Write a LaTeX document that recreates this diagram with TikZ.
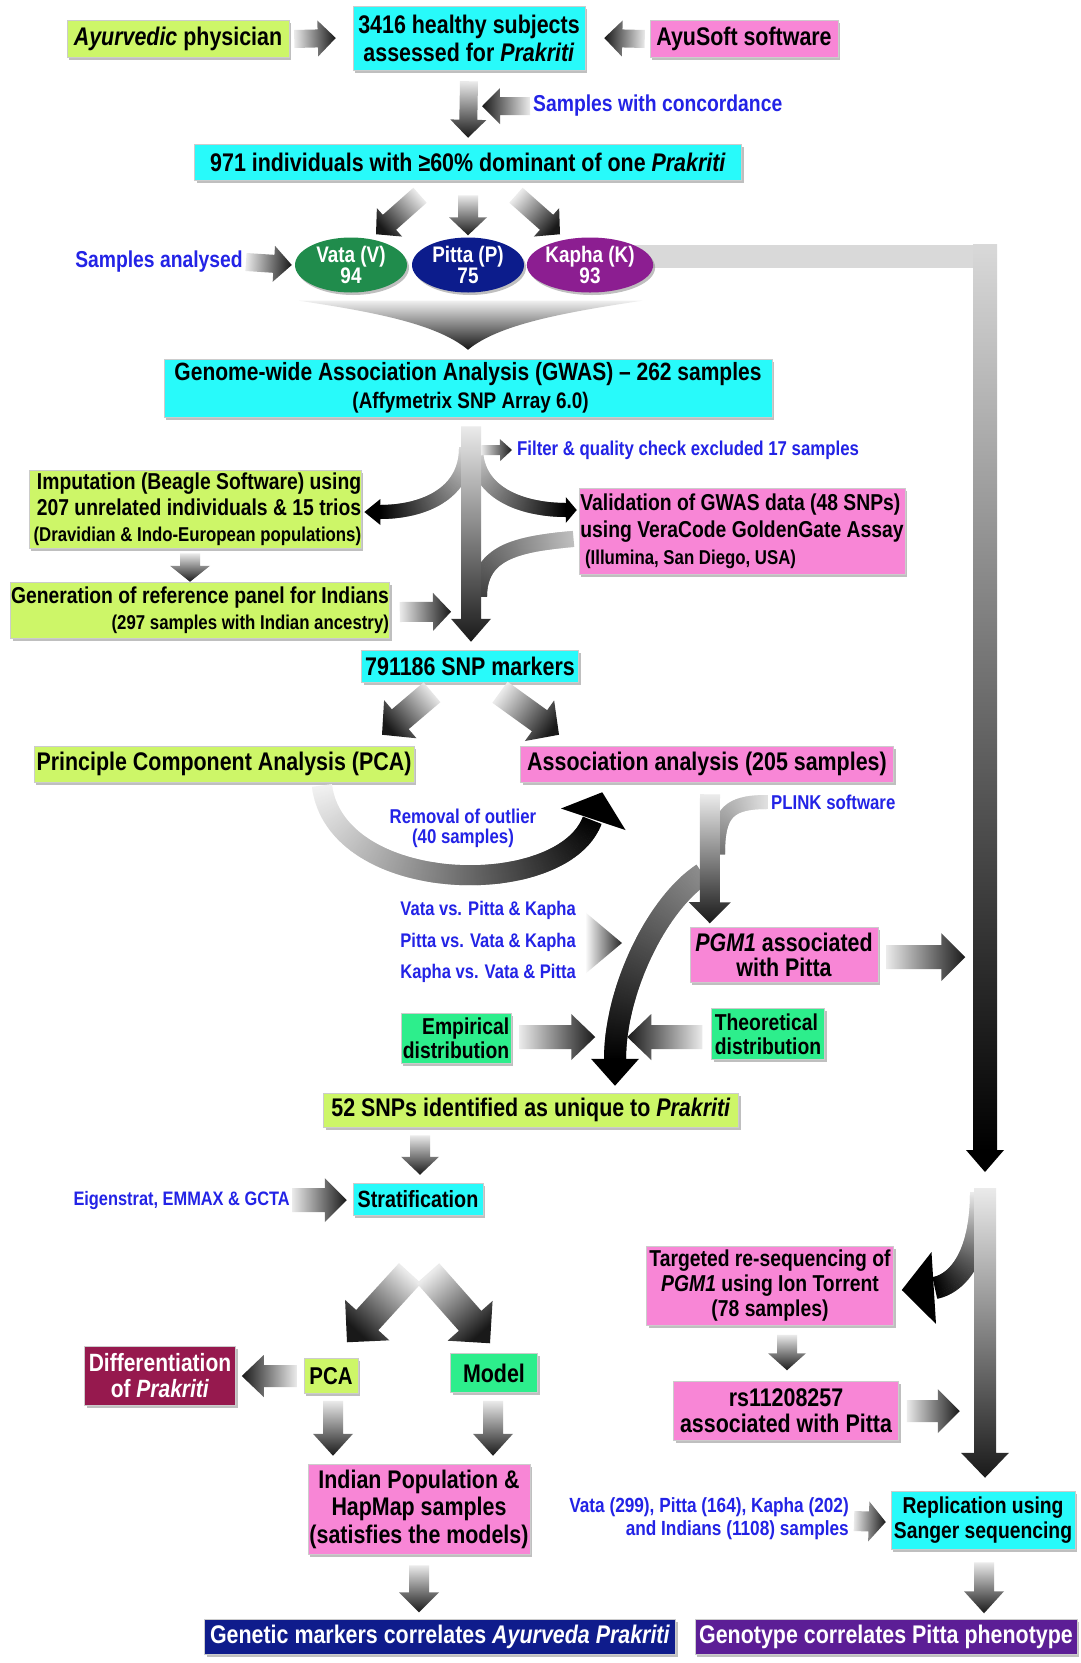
\documentclass[tikz,border=0pt]{standalone}
\usepackage{fontspec}
\setmainfont{Liberation Sans}[FakeStretch=0.84]
\usetikzlibrary{calc,shapes.geometric,shadows,decorations.markings,backgrounds}

\definecolor{limey}{RGB}{205,246,104}
\definecolor{aqua}{RGB}{40,250,250}
\definecolor{rosy}{RGB}{248,134,214}
\definecolor{mint}{RGB}{45,238,140}
\definecolor{wine}{RGB}{150,25,78}
\definecolor{navybox}{RGB}{15,28,140}
\definecolor{violetbox}{RGB}{92,30,150}
\definecolor{vatagreen}{RGB}{32,140,76}
\definecolor{pittablue}{RGB}{12,28,140}
\definecolor{kaphapurple}{RGB}{140,30,145}
\definecolor{noteblue}{RGB}{35,35,230}

\newcommand\bfs[2]{\bfseries\fontsize{#1}{#2}\selectfont}
\newcommand\bigtext{\bfs{25.5}{28}}
\newcommand\smalltext{\bfs{20}{23}}

% block arrow sizes
\def\ashaftw{9pt}
\def\aheadw{18pt}
\def\aheadl{18pt}

\tikzset{
  ashaft/.code={\def\ashaftw{#1}},
  ahead/.code={\def\aheadw{#1}},
  ahlen/.code={\def\aheadl{#1}},
  box/.style={draw=black!20, line width=0.5pt, inner sep=0pt, align=center, font=\bigtext,
    drop shadow={shadow xshift=2pt, shadow yshift=-2.5pt, fill=black!55, opacity=0.45}},
  greenbox/.style={box, fill=limey},
  cyanbox/.style={box, fill=aqua},
  pinkbox/.style={box, fill=rosy},
  mintbox/.style={box, fill=mint},
  darkbox/.style={box, fill=#1, text=white},
  note/.style={text=noteblue, font=\smalltext, inner sep=0pt},
  dosha/.style={ellipse, fill=#1, inner sep=0pt, minimum width=112pt, minimum height=55pt,
    text=white, align=center, font=\bfs{22.5}{19},
    drop shadow={shadow xshift=2pt, shadow yshift=-2.5pt, fill=black!55, opacity=0.45}},
  gradpath/.style n args={3}{decoration={markings,
      mark=between positions 0 and 1 step 1pt with {%
        \pgfmathsetmacro\gsh{#2+(#3-#2)*(\pgfkeysvalueof{/pgf/decoration/mark info/distance from start}/\pgfdecoratedpathlength)}%
        \fill[black!\gsh] (-0.8pt,-#1) rectangle (0.8pt,#1);}},
    postaction={decorate}},
}

% shaded block arrow from #2 to #3
\newcommand\barrow[3][]{%
  \begin{scope}[#1]
    \coordinate (ba) at (#2);
    \coordinate (bb) at (#3);
    \coordinate (bc) at ($(bb)!\aheadl!(ba)$);
    \path let \p1=(ba), \p2=(bb) in
      \pgfextra{\pgfmathsetmacro\barang{atan2(\y2-\y1,\x2-\x1)-90}\global\let\barang\barang};
    \shade[top color=black!90, bottom color=black!8, shading angle=\barang]
      ($(ba)!\ashaftw!90:(bb)$) -- ($(bc)!\ashaftw!-90:(ba)$) -- ($(bc)!\aheadw!-90:(ba)$)
      -- (bb) -- ($(bc)!\aheadw!90:(ba)$) -- ($(bc)!\ashaftw!90:(ba)$)
      -- ($(ba)!\ashaftw!-90:(bb)$) -- cycle;
  \end{scope}}

% black head: base #1, tip #2, half width #3
\newcommand\tipfill[3]{%
  \coordinate (ta) at (#1);
  \coordinate (tb) at (#2);
  \fill[black] ($(ta)!#3!90:(tb)$) -- (tb) -- ($(ta)!#3!-90:(tb)$) -- cycle;}

\begin{document}
\begin{tikzpicture}[x=1pt, y=-1pt]
  \begin{scope}[on background layer]
    \fill[white] (0,0) rectangle (1080,1663);
  \end{scope}
  \useasboundingbox (0,0) rectangle (1080,1663);

  % boxes
  \node[greenbox, minimum width=222pt, minimum height=37pt] (phys) at (178,39) {\textit{Ayurvedic} physician};
  \node[cyanbox, minimum width=232pt, minimum height=64pt] (subj) at (469,38) {3416 healthy subjects\\assessed for \textit{Prakriti}};
  \node[pinkbox, minimum width=188pt, minimum height=37pt] (ayu) at (744,39) {AyuSoft software};
  \node[note, font=\bfs{23}{26}, anchor=west] (conc) at (533,106) {Samples with concordance};
  \node[cyanbox, minimum width=547pt, minimum height=36pt] (f971) at (468,162) {971 individuals with ≥60\% dominant of one \textit{Prakriti}};
  \node[dosha=vatagreen] (vata) at (351,265) {Vata (V)\\94};
  \node[dosha=pittablue] (pitta) at (468,265) {Pitta (P)\\75};
  \node[dosha=kaphapurple] (kapha) at (590,265) {Kapha (K)\\93};
  \node[note, font=\bfs{23}{26}, anchor=east] (samp) at (243,262) {Samples analysed};
  \node[cyanbox, minimum width=608pt, minimum height=58pt, font=\bfs{25}{28}] (gwas) at (468,388) {Genome-wide Association Analysis (GWAS) – 262 samples\\{\bfs{22.5}{24} (Affymetrix SNP Array 6.0)}};
  \node[note, anchor=west] (filt) at (517,450) {Filter \& quality check excluded 17 samples};
  \node[greenbox, minimum width=332pt, minimum height=78pt, align=right, font=\bfs{23}{26}] (imp) at (195,509) {Imputation (Beagle Software) using\\207 unrelated individuals \& 15 trios\\{\bfs{20}{23} (Dravidian \& Indo-European populations)}};
  \node[pinkbox, minimum width=326pt, minimum height=86pt, align=left, font=\bfs{23}{27}] (valid) at (742,531) {Validation of GWAS data (48 SNPs)\\using VeraCode GoldenGate Assay\\{\bfs{20}{23} (Illumina, San Diego, USA)}};
  \node[greenbox, minimum width=379pt, minimum height=56pt, align=right, font=\bfs{23}{26}] (gen) at (200,610) {Generation of reference panel for Indians\\{\bfs{20}{23} (297 samples with Indian ancestry)}};
  \node[cyanbox, minimum width=217pt, minimum height=32pt] (snp) at (470,666) {791186 SNP markers};
  \node[greenbox, minimum width=380pt, minimum height=36pt] (pca) at (224,764) {Principle Component Analysis (PCA)};
  \node[pinkbox, minimum width=373pt, minimum height=36pt] (assoc) at (707,764) {Association analysis (205 samples)};
  \node[note, align=center, font=\bfs{20}{20}] (outl) at (463,828) {Removal of outlier\\(40 samples)};
  \node[note, anchor=west] (plink) at (771,802) {PLINK software};
  \node[note, anchor=east, align=right, font=\bfs{19.7}{31.5}] (vsl) at (576,942) {Vata vs. Pitta \& Kapha\\Pitta vs. Vata \& Kapha\\Kapha vs. Vata \& Pitta};
  \node[pinkbox, minimum width=188pt, minimum height=55pt, font=\bfs{25.5}{25}] (pgm) at (784,955) {\textit{PGM1} associated\\with Pitta};
  \node[mintbox, minimum width=110pt, minimum height=50pt, align=right, font=\bfs{23}{24}] (emp) at (456,1038) {Empirical\\distribution};
  \node[mintbox, minimum width=113pt, minimum height=51pt, align=left, font=\bfs{23}{24}] (theo) at (768,1034) {Theoretical\\distribution};
  \node[greenbox, minimum width=415pt, minimum height=34pt] (snp52) at (531,1110) {52 SNPs identified as unique to \textit{Prakriti}};
  \node[note, anchor=east, font=\bfs{19.5}{22}] (eig) at (290,1200) {Eigenstrat, EMMAX \& GCTA};
  \node[cyanbox, minimum width=130pt, minimum height=32pt, font=\bfs{23.5}{26}] (strat) at (418,1199) {Stratification};
  \node[darkbox=wine, minimum width=151pt, minimum height=59pt, font=\bfs{25}{26}] (diff) at (160,1376) {Differentiation\\of \textit{Prakriti}};
  \node[greenbox, minimum width=54pt, minimum height=35pt, font=\bfs{24.3}{26}] (pcab) at (331,1376) {PCA};
  \node[mintbox, minimum width=87pt, minimum height=39pt] (model) at (494,1373) {Model};
  \node[pinkbox, minimum width=222pt, minimum height=90pt, font=\bfs{25.5}{27.5}] (indian) at (419,1509) {Indian Population \&\\HapMap samples\\(satisfies the models)};
  \node[darkbox=navybox, minimum width=471pt, minimum height=35pt] (genmark) at (440,1637) {Genetic markers correlates \textit{Ayurveda Prakriti}};
  \node[darkbox=violetbox, minimum width=382pt, minimum height=35pt] (genotype) at (886,1637) {Genotype correlates Pitta phenotype};
  \node[pinkbox, minimum width=247pt, minimum height=79pt, font=\bfs{23}{25}] (targ) at (770,1286) {Targeted re-sequencing of\\\textit{PGM1} using Ion Torrent\\(78 samples)};
  \node[pinkbox, minimum width=225pt, minimum height=59pt, font=\bfs{25.5}{26}] (rs) at (786,1411) {rs11208257\\associated with Pitta};
  \node[note, anchor=east, align=right, font=\bfs{20.5}{23}] (repl) at (849,1519) {Vata (299), Pitta (164), Kapha (202)\\and Indians (1108) samples};
  \node[cyanbox, minimum width=184pt, minimum height=58pt, font=\bfs{23}{25}] (sanger) at (983,1520) {Replication using\\Sanger sequencing};

  % top
  \coordinate (cpt) at ($(subj.south)+(13,36)$);
  \barrow{$(phys.east)+(5,0)$}{$(subj.west)+(-17,0)$}
  \barrow{$(ayu.west)+(-5,0)$}{$(subj.east)+(19,0)$}
  \barrow{$(subj.south)+(0,11)$}{$(f971.north)+(0,-6)$}
  \barrow{$(conc.west)+(-3,0)$}{cpt}
  \barrow[ashaft=10pt, ahead=19pt]{$(f971.south)+(-48,15)$}{$(f971.south)+(-92,54)$}
  \barrow[ashaft=10pt, ahead=19pt]{$(f971.south)+(0,15)$}{$(pitta.north)+(0,-2)$}
  \barrow[ashaft=10pt, ahead=19pt]{$(f971.south)+(48,15)$}{$(f971.south)+(92,54)$}
  \barrow{$(samp.east)+(3,0)$}{$(vata.west)+(-3,0)$}
  \shade[top color=black!6, bottom color=black!92]
    ($(vata.south)+(-52,8)$) -- ($(kapha.south)+(52,8)$)
    .. controls +(-80,12) and +(30,-25) .. ($(gwas.north)+(0,-9)$)
    .. controls +(-30,-25) and +(80,12) .. ($(vata.south)+(-52,8)$) -- cycle;

  % kapha line to the right
  \coordinate (kturn) at (985,256);
  \coordinate (kend) at (985,1172);
  \begin{scope}[on background layer]
    \fill[black!15] ($(kapha.center)+(20,-20)$) rectangle ($(kturn)+(12,12)$);
    \shade[top color=black!15, bottom color=black] ($(kturn)+(-12,-12)$) rectangle ($(kend)+(12,-21)$);
  \end{scope}
  \tipfill{$(kend)+(0,-22)$}{kend}{19pt}

  % gwas to markers
  \coordinate (mtop) at ($(gwas.south)+(3,9)$);
  \coordinate (mtip) at ($(snp.north)+(1,-8)$);
  \path[gradpath={7pt}{15}{100}] ($(mtop)+(-5,22)$) .. controls +(0,45) and +(45,0) .. ($(imp.east)+(18,3)$);
  \tipfill{$(imp.east)+(19,3)$}{$(imp.east)+(3,3)$}{13pt}
  \path[gradpath={7pt}{15}{100}] ($(mtop)+(5,22)$) .. controls +(0,45) and +(-45,0) .. ($(valid.west)+(-12,-21)$);
  \tipfill{$(valid.west)+(-13,-21)$}{$(valid.west)+(-2,-21)$}{13pt}
  \path[gradpath={8pt}{25}{75}] ($(valid.west)+(-6,8)$) .. controls +(-55,5) and +(0,-45) .. ($(mtip)+(8,-45)$);
  \barrow[ashaft=10pt, ahead=20pt, ahlen=23pt]{mtop}{mtip}
  \barrow[ashaft=5pt, ahead=11pt, ahlen=12pt]{$(mtop)+(10,24)$}{$(filt.west)+(-5,0)$}
  \barrow[ashaft=10pt, ahead=20pt, ahlen=16pt]{$(imp.south)+(-5,5)$}{$(gen.north)+(-10,0)$}
  \barrow[ashaft=10pt, ahead=19pt]{$(gen.east)+(10,2)$}{$(mtip)+(-20,-30)$}

  % markers to pca / association
  \barrow[ashaft=13pt, ahead=25pt, ahlen=24pt]{$(snp.south)+(-38,10)$}{$(pca.north)+(158,-11)$}
  \barrow[ashaft=13pt, ahead=25pt, ahlen=24pt]{$(snp.south)+(30,10)$}{$(assoc.north)+(-148,-11)$}
  \path[gradpath={10pt}{5}{100}] ($(pca.south)+(98,4)$) .. controls +(15,110) and +(-30,80) .. ($(assoc.south west)+(72,38)$);
  \tipfill{$(assoc.south west)+(73,37)$}{$(assoc.south west)+(82,10)$}{34pt}

  % association to pgm1 and 52 snps
  \coordinate (vtop) at ($(assoc.south)+(3,12)$);
  \coordinate (vtip) at ($(pgm.north west)+(20,-4)$);
  \path[gradpath={7pt}{12}{55}] ($(plink.west)+(-4,0)$) .. controls +(-40,0) and +(0,-40) .. ($(vtop)+(8,60)$);
  \path[gradpath={11pt}{45}{100}] ($(vtop)+(-8,80)$) .. controls +(-45,30) and +(0,-70) .. ($(snp52.north)+(84,-33)$);
  \tipfill{$(snp52.north)+(84,-34)$}{$(snp52.north)+(84,-7)$}{24pt}
  \barrow[ashaft=10pt, ahead=21pt, ahlen=21pt]{vtop}{vtip}
  \shade[left color=white, right color=black!85] ($(vsl.east)+(9,-30)$) -- ($(vsl.east)+(46,1)$) -- ($(vsl.east)+(9,32)$) -- cycle;
  \barrow[ashaft=12pt, ahead=24pt, ahlen=24pt]{$(pgm.east)+(8,2)$}{$(pgm.east)+(87,2)$}
  \barrow[ashaft=12pt, ahead=23pt, ahlen=24pt]{$(emp.east)+(8,-1)$}{$(emp.east)+(84,-1)$}
  \barrow[ashaft=12pt, ahead=23pt, ahlen=24pt]{$(theo.west)+(-9,3)$}{$(theo.west)+(-84,3)$}

  % stratification
  \barrow[ashaft=10pt, ahead=19pt, ahlen=18pt]{$(snp52.south)+(-111,8)$}{$(strat.north)+(2,-8)$}
  \barrow[ashaft=12pt, ahead=22pt, ahlen=22pt]{$(eig.east)+(2,0)$}{$(strat.west)+(-6,1)$}
  \barrow[ashaft=15pt, ahead=30pt, ahlen=30pt]{$(strat.south)+(-8,58)$}{$(pcab.north)+(16,-16)$}
  \barrow[ashaft=15pt, ahead=30pt, ahlen=30pt]{$(strat.south)+(10,58)$}{$(model.north)+(-4,-10)$}
  \barrow[ashaft=11pt, ahead=21pt, ahlen=22pt]{$(pcab.west)+(-7,0)$}{$(diff.east)+(6,0)$}
  \barrow[ashaft=10pt, ahead=20pt, ahlen=22pt]{$(pcab.south)+(2,7)$}{$(indian.north)+(-86,-8)$}
  \barrow[ashaft=10pt, ahead=20pt, ahlen=22pt]{$(model.south)+(-1,8)$}{$(indian.north)+(74,-8)$}
  \barrow[ashaft=10pt, ahead=20pt, ahlen=20pt]{$(indian.south)+(0,11)$}{$(genmark.north)+(-21,-7)$}

  % replication column
  \coordinate (rtop) at ($(kend)+(0,16)$);
  \coordinate (rtip) at ($(sanger.north)+(2,-13)$);
  \path[gradpath={11pt}{8}{100}] ($(rtop)+(-4,5)$) .. controls +(0,60) and +(25,-5) .. ($(targ.east)+(41,2)$);
  \tipfill{$(targ.east)+(40,2)$}{$(targ.east)+(8,4)$}{36pt}
  \barrow[ashaft=11pt, ahead=24pt, ahlen=25pt]{rtop}{rtip}
  \barrow[ashaft=10pt, ahead=19pt, ahlen=17pt]{$(targ.south)+(17,9)$}{$(rs.north)+(1,-11)$}
  \barrow[ashaft=11pt, ahead=22pt, ahlen=22pt]{$(rs.east)+(8,0)$}{$(rs.east)+(61,0)$}
  \barrow[ashaft=10pt, ahead=20pt, ahlen=17pt]{$(repl.east)+(5,2)$}{$(sanger.west)+(-5,2)$}
  \barrow[ashaft=10pt, ahead=20pt, ahlen=22pt]{$(sanger.south)+(1,13)$}{$(genotype.north)+(98,-6)$}
\end{tikzpicture}
\end{document}
